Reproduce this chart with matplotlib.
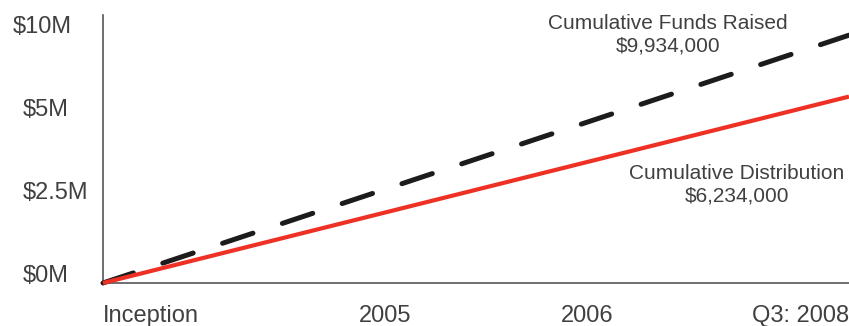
import numpy as np
import matplotlib
matplotlib.use("Agg")
from matplotlib import pyplot as plt
from matplotlib.transforms import ScaledTranslation

# data
periods = ["Inception", "2005", "2006", "Q3: 2008"]
funds_raised = [0, 9934000]        # Inception -> Q3: 2008
distribution = [0, 6234000]        # Inception -> Q3: 2008
ytick_values = [0, 2500000, 5000000, 10000000]
ytick_labels = ["$0M", "$2.5M", "$5M", "$10M"]

# the value axis is evenly spaced between the labelled ticks
knot_val = np.array([0, 2.5e6, 5e6, 10e6, 15e6])
knot_pos = np.array([0, 1, 2, 3, 4])


def forward(v):
    return np.interp(v, knot_val, knot_pos)


def inverse(p):
    return np.interp(p, knot_pos, knot_val)


plt.rcParams["font.family"] = ["Liberation Sans", "DejaVu Sans"]
text_col = "#404040"

fig = plt.figure(figsize=(8.49, 3.26), dpi=100)
ax = fig.add_axes([103 / 849, 43 / 326, 746 / 849, 268 / 326])

xpos = [0, 0.378, 0.649, 1.0]
ends = [xpos[0], xpos[-1]]

ax.plot(ends, funds_raised, color="#1c1c1c", lw=3.6, dashes=(6.4, 6.2),
        dash_capstyle="round", solid_capstyle="round", clip_on=False, zorder=3)
ax.plot(ends, distribution, color="#ee3124", lw=3.0,
        solid_capstyle="butt", clip_on=False, zorder=4)

ax.set_yscale("function", functions=(forward, inverse))
ax.set_ylim(0, 11.15e6)
ax.set_xlim(0, 1)

ax.set_yticks(ytick_values)
ax.set_yticklabels(ytick_labels, fontsize=17, color=text_col)
ax.tick_params(axis="y", length=0, pad=0)
for lbl, txt in zip(ax.get_yticklabels(), ytick_labels):
    lbl.set_horizontalalignment("left")
    dx = -0.90 if txt == "$10M" else -0.80
    lbl.set_transform(lbl.get_transform() + ScaledTranslation(dx, 0.095, fig.dpi_scale_trans))

ax.set_xticks(xpos)
ax.set_xticklabels(periods, fontsize=17, color=text_col)
ax.tick_params(axis="x", length=0, pad=16)
xl = ax.get_xticklabels()
xl[0].set_horizontalalignment("left")
xl[-1].set_horizontalalignment("right")

for side in ["top", "right"]:
    ax.spines[side].set_visible(False)
for side in ["left", "bottom"]:
    ax.spines[side].set_color("#555555")
    ax.spines[side].set_linewidth(1.2)

ax.text(0.757, (283 - 14) / 268, "Cumulative Funds Raised\n$9,934,000",
        transform=ax.transAxes, ha="center", va="top", fontsize=15,
        color=text_col, linespacing=1.25)
ax.text(0.85, (283 - 164) / 268, "Cumulative Distribution\n$6,234,000",
        transform=ax.transAxes, ha="center", va="top", fontsize=15,
        color=text_col, linespacing=1.25)

fig.savefig("out.png", dpi=100)
